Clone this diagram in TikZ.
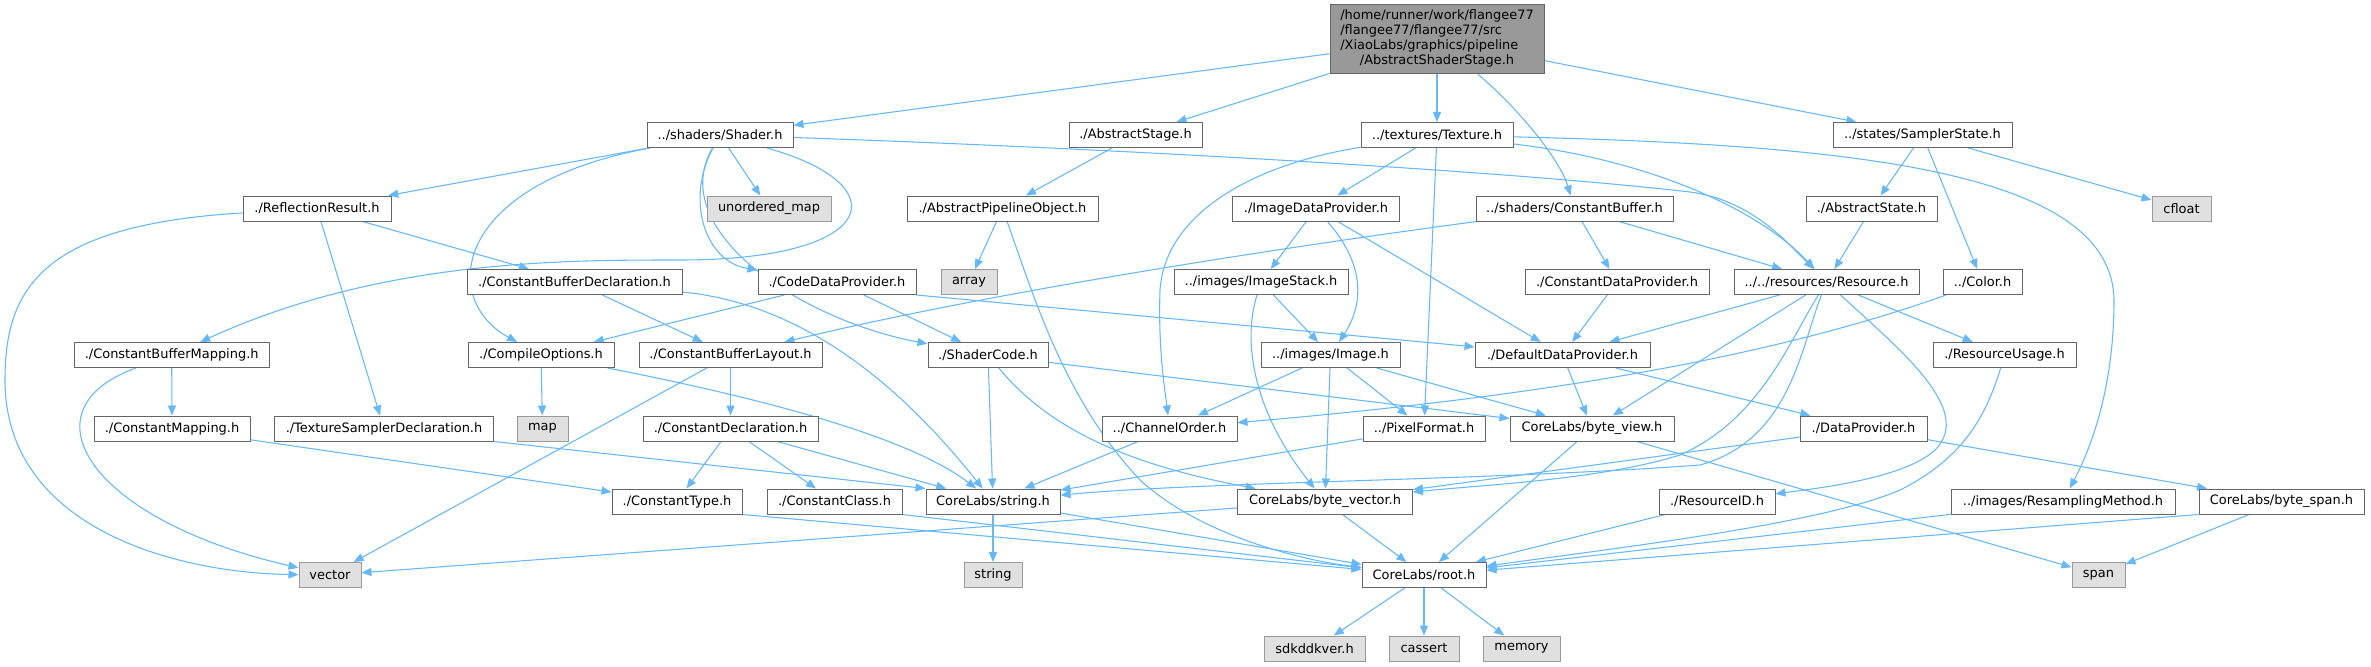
\documentclass[tikz,border=0pt]{standalone}
\usepackage{fontspec}
\setmainfont{DejaVu Sans}
\usetikzlibrary{arrows.meta,backgrounds}
\definecolor{edgec}{HTML}{63B8FF}
\definecolor{nbord}{HTML}{666666}
\definecolor{sbord}{HTML}{999999}
\definecolor{sfill}{HTML}{E0E0E0}
\definecolor{tfill}{HTML}{999999}
\begin{document}
\begin{tikzpicture}[x=0.75pt,y=-0.75pt,
  font=\fontsize{9.7pt}{11.25pt}\selectfont,
  box/.style={draw=nbord, fill=white, line width=0.75pt, minimum height=18.75pt, inner sep=0pt},
  sys/.style={box, draw=sbord, fill=sfill},
  nw/.style={minimum width={#1*0.75pt}},
  edge/.style={draw=edgec, line width=0.8pt, -{Triangle[length=7.5pt,width=6pt]}}]
\useasboundingbox (0,0) rectangle (2371,667);
% row 0
\node[box, fill=tfill, nw=214, minimum height=51.75pt] (top) at (1437,39.5)
  {\begin{tabular}{@{}l@{}}/home/runner/work/flangee77\\/flangee77/flangee77/src\\/XiaoLabs/graphics/pipeline\\\multicolumn{1}{@{}c@{}}{/AbstractShaderStage.h}\end{tabular}};
% row 1
\node[box, nw=146] (shader) at (720,135) {../shaders/Shader.h};
\node[box, nw=133] (abstage) at (1135.5,135) {./AbstractStage.h};
\node[box, nw=152] (texture) at (1437,135) {../textures/Texture.h};
\node[box, nw=179] (sampler) at (1922.5,135) {../states/SamplerState.h};
% row 2
\node[box, nw=148] (refl) at (317,208.5) {./ReflectionResult.h};
\node[sys, nw=124] (umap) at (769,208.5) {unordered\_map};
\node[box, nw=191] (apo) at (1002.5,208.5) {./AbstractPipelineObject.h};
\node[box, nw=167] (idp) at (1316,208.5) {./ImageDataProvider.h};
\node[box, nw=197] (cbuf) at (1574.5,208.5) {../shaders/ConstantBuffer.h};
\node[box, nw=131] (abstate) at (1871.5,208.5) {./AbstractState.h};
\node[sys, nw=59] (cfloat) at (2181.5,208.5) {cfloat};
% row 3
\node[box, nw=215] (cbdecl) at (574.5,282) {./ConstantBufferDeclaration.h};
\node[box, nw=158] (cdp) at (837,282) {./CodeDataProvider.h};
\node[sys, nw=56] (array) at (969,282) {array};
\node[box, nw=174] (imgstack) at (1261,282) {../images/ImageStack.h};
\node[box, nw=184] (cdatap) at (1617,282) {./ConstantDataProvider.h};
\node[box, nw=185] (resource) at (1826.5,282) {../../resources/Resource.h};
\node[box, nw=79] (color) at (1982.5,282) {../Color.h};
% row 4
\node[box, nw=195] (cbmap) at (171.7,355) {./ConstantBufferMapping.h};
\node[box, nw=146] (compopt) at (541,355) {./CompileOptions.h};
\node[box, nw=183] (cblayout) at (730.5,355) {./ConstantBufferLayout.h};
\node[box, nw=120] (shcode) at (988,355) {./ShaderCode.h};
\node[box, nw=139] (image) at (1330.5,355) {../images/Image.h};
\node[box, nw=175] (defdp) at (1562.5,355) {./DefaultDataProvider.h};
\node[box, nw=143] (resusage) at (2004.5,355) {./ResourceUsage.h};
% row 5
\node[box, nw=156] (constmap) at (172,428.5) {./ConstantMapping.h};
\node[box, nw=219] (texsamp) at (384,428.5) {./TextureSamplerDeclaration.h};
\node[sys, nw=51] (map) at (542.5,428.5) {map};
\node[box, nw=175] (constdecl) at (730.5,428.5) {./ConstantDeclaration.h};
\node[box, nw=135] (chorder) at (1169.5,428.5) {../ChannelOrder.h};
\node[box, nw=122] (pixfmt) at (1424,428.5) {../PixelFormat.h};
\node[box, nw=164] (byteview) at (1592,428.5) {CoreLabs/byte\_view.h};
\node[box, nw=127] (dataprov) at (1863.5,428.5) {./DataProvider.h};
% row 6
\node[box, nw=130] (consttype) at (677,501.5) {./ConstantType.h};
\node[box, nw=135] (constclass) at (834.5,501.5) {./ConstantClass.h};
\node[box, nw=134] (stringh) at (993,501.5) {CoreLabs/string.h};
\node[box, nw=175] (bytevec) at (1325,501.5) {CoreLabs/byte\_vector.h};
\node[box, nw=116] (resid) at (1717,501.5) {./ResourceID.h};
\node[box, nw=224] (resamp) at (2063,501.5) {../images/ResamplingMethod.h};
\node[box, nw=165] (bytespan) at (2281.5,501.5) {CoreLabs/byte\_span.h};
% row 7
\node[sys, nw=62] (vector) at (330,575) {vector};
\node[sys, nw=58] (string) at (993,575) {string};
\node[box, nw=124] (root) at (1424,575) {CoreLabs/root.h};
\node[sys, nw=53] (span) at (2098.5,575) {span};
% row 8
\node[sys, nw=101] (sdk) at (1314.5,648.5) {sdkddkver.h};
\node[sys, nw=70] (cassert) at (1424,648.5) {cassert};
\node[sys, nw=77] (memory) at (1521.5,648.5) {memory};

\begin{pgfonlayer}{background}
% edges from top
\draw[edge] (top) -- (shader);
\draw[edge] (top) -- (abstage);
\draw[edge] (top) -- (texture);
\draw[edge] (top) .. controls (1520,110) and (1560,160) .. (cbuf);
\draw[edge] (top) -- (sampler);
% Shader.h
\draw[edge] (shader) -- (refl);
\draw[edge] (shader) -- (umap);
\draw[edge] (shader) .. controls (685,200) and (705,262) .. (cdp);
\draw[edge] (shader) .. controls (665,230) and (800,320) .. (shcode);
\draw[edge] (shader) .. controls (450,185) and (440,300) .. (compopt);
\draw[edge] (shader) .. controls (900,185) and (880,260) .. (680,260) .. controls (560,260) and (380,260) .. (cbmap);
\draw[edge] (shader) .. controls (1100,148) and (1500,170) .. (1690,192) .. controls (1750,200) and (1785,240) .. (resource);
% ReflectionResult
\draw[edge] (refl) .. controls (40,225) and (5,290) .. (5,380) .. controls (5,530) and (180,573) .. (vector);
\draw[edge] (refl) -- (texsamp);
\draw[edge] (refl) -- (cbdecl);
% AbstractStage / PipelineObject
\draw[edge] (abstage) -- (apo);
\draw[edge] (apo) -- (array);
\draw[edge] (apo) .. controls (1035,300) and (1065,400) .. (1140,480) .. controls (1200,535) and (1300,560) .. (root);
% Texture
\draw[edge] (texture) -- (idp);
\draw[edge] (texture) .. controls (1250,165) and (1165,215) .. (1160,290) .. controls (1158,350) and (1165,390) .. (chorder);
\draw[edge] (texture) -- (pixfmt);
\draw[edge] (texture) .. controls (1650,160) and (1760,210) .. (resource);
\draw[edge] (texture) .. controls (1850,145) and (2112,170) .. (2114,300) .. controls (2114,380) and (2095,440) .. (resamp);
% SamplerState
\draw[edge] (sampler) -- (abstate);
\draw[edge] (sampler) -- (color);
\draw[edge] (sampler) -- (cfloat);
% ImageDataProvider
\draw[edge] (idp) -- (imgstack);
\draw[edge] (idp) .. controls (1370,270) and (1360,310) .. (image);
\draw[edge] (idp) -- (defdp);
% ConstantBuffer
\draw[edge] (cbuf) .. controls (1300,245) and (1000,290) .. (cblayout);
\draw[edge] (cbuf) -- (cdatap);
\draw[edge] (cbuf) -- (resource);
\draw[edge] (abstate) -- (resource);
% row 3 sources
\draw[edge] (cbdecl) -- (cblayout);
\draw[edge] (cbdecl) .. controls (820,305) and (920,410) .. (stringh);
\draw[edge] (cdp) -- (compopt);
\draw[edge] (cdp) -- (shcode);
\draw[edge] (cdp.south east) -- (defdp);
\draw[edge] (imgstack) -- (image);
\draw[edge] (imgstack) .. controls (1240,350) and (1260,420) .. (bytevec);
\draw[edge] (cdatap) -- (defdp);
\draw[edge] (resource) -- (defdp);
\draw[edge] (resource) -- (byteview);
\draw[edge] (resource) -- (resusage);
\draw[edge] (resource) .. controls (1900,350) and (1975,410) .. (1935,450) .. controls (1905,478) and (1820,488) .. (resid);
\draw[edge] (resource) .. controls (1790,340) and (1760,420) .. (1680,455) .. controls (1600,480) and (1480,485) .. (bytevec);
\draw[edge] (resource) .. controls (1800,350) and (1790,440) .. (1700,465) .. controls (1500,480) and (1200,482) .. (stringh);
\draw[edge] (color) .. controls (1750,365) and (1500,400) .. (chorder);
% row 4 sources
\draw[edge] (cbmap) -- (constmap);
\draw[edge] (cbmap) .. controls (20,410) and (90,520) .. (vector);
\draw[edge] (compopt) -- (map);
\draw[edge] (compopt) .. controls (720,390) and (900,430) .. (stringh);
\draw[edge] (cblayout) -- (constdecl);
\draw[edge] (cblayout) -- (vector);
\draw[edge] (shcode) -- (stringh);
\draw[edge] (shcode) .. controls (1050,430) and (1130,465) .. (bytevec);
\draw[edge] (shcode) -- (byteview);
\draw[edge] (image) -- (chorder);
\draw[edge] (image) -- (pixfmt);
\draw[edge] (image) -- (byteview);
\draw[edge] (image) -- (bytevec);
\draw[edge] (defdp) -- (byteview);
\draw[edge] (defdp) -- (dataprov);
\draw[edge] (resusage) .. controls (1985,420) and (1960,460) .. (1900,490) .. controls (1820,525) and (1600,550) .. (root);
% row 5 sources
\draw[edge] (constmap) -- (consttype);
\draw[edge] (texsamp.south east) -- (stringh.north west);
\draw[edge] (constdecl) -- (consttype);
\draw[edge] (constdecl) -- (constclass);
\draw[edge] (constdecl) -- (stringh);
\draw[edge] (chorder) -- (stringh);
\draw[edge] (pixfmt) -- (stringh);
\draw[edge] (byteview) -- (root);
\draw[edge] (byteview) -- (span);
\draw[edge] (dataprov) -- (bytevec);
\draw[edge] (dataprov) -- (bytespan);
% row 6 sources
\draw[edge] (consttype.south east) -- (root);
\draw[edge] (constclass.south east) -- (root);
\draw[edge] (stringh) -- (string);
\draw[edge] (stringh) -- (root);
\draw[edge] (bytevec) -- (root);
\draw[edge] (bytevec) -- (vector);
\draw[edge] (resid) -- (root);
\draw[edge] (resamp) -- (root);
\draw[edge] (bytespan.south west) -- (root);
\draw[edge] (bytespan) -- (span);
% root
\draw[edge] (root) -- (sdk);
\draw[edge] (root) -- (cassert);
\draw[edge] (root) -- (memory);
\end{pgfonlayer}
\end{tikzpicture}
\end{document}
